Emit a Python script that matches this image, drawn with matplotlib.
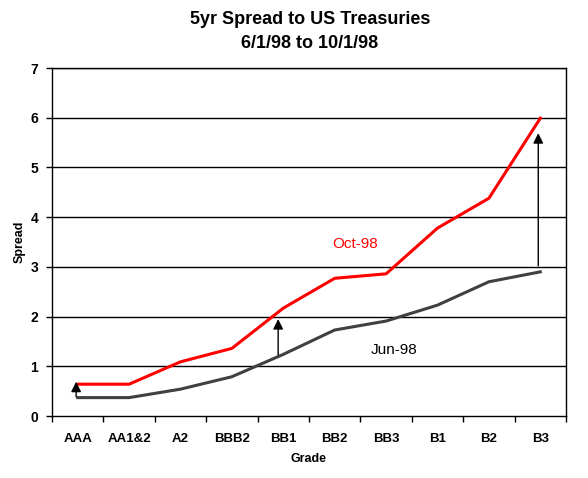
import matplotlib
matplotlib.use('Agg')
import matplotlib.pyplot as plt
import numpy as np

plt.rcParams['font.family'] = ['Liberation Sans', 'DejaVu Sans']

grades = ['AAA', 'AA1&2', 'A2', 'BBB2', 'BB1', 'BB2', 'BB3', 'B1', 'B2', 'B3']
oct98 = [0.64, 0.64, 1.09, 1.36, 2.17, 2.77, 2.86, 3.78, 4.38, 5.99]
jun98 = [0.37, 0.37, 0.54, 0.79, 1.24, 1.73, 1.91, 2.23, 2.70, 2.90]

# arrows: (x index, start, end)
arrows = [(-0.03, 0.39, 0.69), (3.9, 1.23, 1.95), (8.96, 3.02, 5.69)]

fig = plt.figure(figsize=(5.88, 4.78), dpi=100)
ax = fig.add_axes([0.0884, 0.1297, 0.8742, 0.728])

x = np.arange(len(grades))
ax.set_xlim(-0.5, len(grades) - 0.5)
ax.set_ylim(0, 7)

for y in range(1, 8):
    ax.axhline(y, color='black', lw=1, zorder=1)

ax.plot(x, jun98, color='#404040', lw=2.2, zorder=3)
ax.plot(x, oct98, color='#ff0000', lw=2.2, zorder=3)

for xi, y0, y1 in arrows:
    ax.annotate('', xy=(xi, y1), xytext=(xi, y0),
                arrowprops=dict(arrowstyle='-|>', color='black', lw=1,
                                mutation_scale=15, shrinkA=0, shrinkB=0),
                zorder=4)

ax.text(5.39, 3.46, 'Oct-98', color='#ff0000', fontsize=11, ha='center', va='center')
ax.text(6.15, 1.33, 'Jun-98', color='black', fontsize=11, ha='center', va='center')

ax.set_xticks(x)
ax.set_xticklabels(grades, fontweight='bold', fontsize=9.5)
ax.set_xticks(np.arange(-0.5, len(grades)), minor=True)
ax.tick_params(axis='x', which='major', length=0, pad=12)
ax.tick_params(axis='x', which='minor', length=4, direction='out', width=1)
ax.set_yticks(range(0, 8))
ax.set_yticklabels([str(v) for v in range(0, 8)], fontweight='bold', fontsize=10)
ax.tick_params(axis='y', length=4, direction='out', width=1, pad=6)

for s in ax.spines.values():
    s.set_color('black')
    s.set_linewidth(1)

ax.set_xlabel('Grade', fontweight='bold', fontsize=9)
ax.set_ylabel('Spread', fontweight='bold', fontsize=9)
ax.xaxis.set_label_coords(0.5, -0.106)
ax.yaxis.set_label_coords(-0.052, 0.5)

fig.text(0.527, 0.96, '5yr Spread to US Treasuries', ha='center', va='center',
         fontweight='bold', fontsize=13)
fig.text(0.527, 0.908, '6/1/98 to 10/1/98', ha='center', va='center',
         fontweight='bold', fontsize=13)

fig.savefig('out.png', dpi=100)
